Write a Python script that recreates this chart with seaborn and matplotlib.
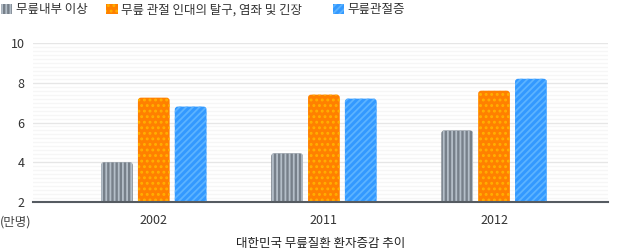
import matplotlib
matplotlib.use("Agg")
import matplotlib.pyplot as plt
import seaborn as sns
import pandas as pd
from matplotlib.patches import Patch, FancyBboxPatch
from matplotlib.ticker import MultipleLocator

years = ["2002", "2011", "2012"]
series = ["무릎내부 이상", "무릎 관절 인대의 탈구, 염좌 및 긴장", "무릎관절증"]
internal = [4.0, 4.45, 5.6]
ligament = [7.25, 7.4, 7.6]
arthrosis = [6.8, 7.2, 8.2]
title = "대한민국 무릎질환 환자증감 추이"
unit = "(만명)"

colors = ["#77808a", "#ff8000", "#3399ff"]
hatch_colors = ["#b4bec8", "#ffb000", "#5cb3ff"]
hatches = ["||||", "...", "/////"]

rows = []
for s, vals in zip(series, [internal, ligament, arthrosis]):
    for y, v in zip(years, vals):
        rows.append({"year": y, "series": s, "value": v})
df = pd.DataFrame(rows)

sns.set_style("white")
plt.rcParams["font.family"] = ["Noto Sans CJK KR", "DejaVu Sans"]
plt.rcParams["hatch.linewidth"] = 1.3

fig = plt.figure(figsize=(6.25, 2.52), dpi=100)
ax = fig.add_axes([33/625, 1-202/252, (608-33)/625, (202-43)/252])

sns.barplot(data=df, x="year", y="value", hue="series", palette=colors,
            width=0.65, gap=0.14, ax=ax, legend=False, saturation=1)

ax.set_ylim(2, 10)
ax.set_xlim(-0.71, 2.67)

# rounded top corners
px_x = 1 / 170.0
px_y = 1 / 20.0
for cont, c, hc, h in zip(ax.containers, colors, hatch_colors, hatches):
    for p in cont:
        x0, y0 = p.get_x(), p.get_y()
        w, hgt = p.get_width(), p.get_height()
        p.set_visible(False)
        fb = FancyBboxPatch((x0, y0), w, hgt,
                            boxstyle=f"round,pad=0,rounding_size={3*px_x}",
                            mutation_aspect=px_y / px_x,
                            facecolor=c, edgecolor=hc, hatch=h, linewidth=0,
                            zorder=3)
        ax.add_patch(fb)

ax.yaxis.set_major_locator(MultipleLocator(2))
ax.yaxis.set_minor_locator(MultipleLocator(0.2))
ax.grid(True, which="major", axis="y", color="#e6e6e6", lw=1)
ax.grid(True, which="minor", axis="y", color="#f6f6f6", lw=1)
ax.set_axisbelow(True)
for s in ["top", "right", "left"]:
    ax.spines[s].set_visible(False)
ax.spines["bottom"].set_color("#555b61")
ax.spines["bottom"].set_linewidth(1.5)
ax.spines["bottom"].set_zorder(4)
ax.tick_params(axis="y", which="major", direction="in", length=12, width=1.2,
               color="#555b61", labelsize=9, labelcolor="#333333", pad=6)
ax.tick_params(axis="y", which="minor", direction="in", length=6, width=0.8,
               color="#dddddd")
ax.tick_params(axis="x", length=0, labelsize=9, labelcolor="#333333", pad=9)
ax.set_xlabel(title, fontsize=9, color="#222222", labelpad=7)
ax.set_ylabel("")
fig.text(0/625, 1-222/252, unit, fontsize=9, color="#444444", va="center", ha="left")

xpos = [-0.012, 0.156, 0.518]
for lab, c, hc, h, xp in zip(series, colors, hatch_colors, hatches, xpos):
    hdl = Patch(facecolor=c, edgecolor=hc, hatch=h, linewidth=0)
    fig.legend([hdl], [lab], loc="upper left", bbox_to_anchor=(xp, 1.022),
               frameon=False, fontsize=9, handlelength=0.9, handleheight=0.9,
               handletextpad=0.3, labelcolor="#333333", borderaxespad=0.3)

fig.savefig("out.png", dpi=100)
